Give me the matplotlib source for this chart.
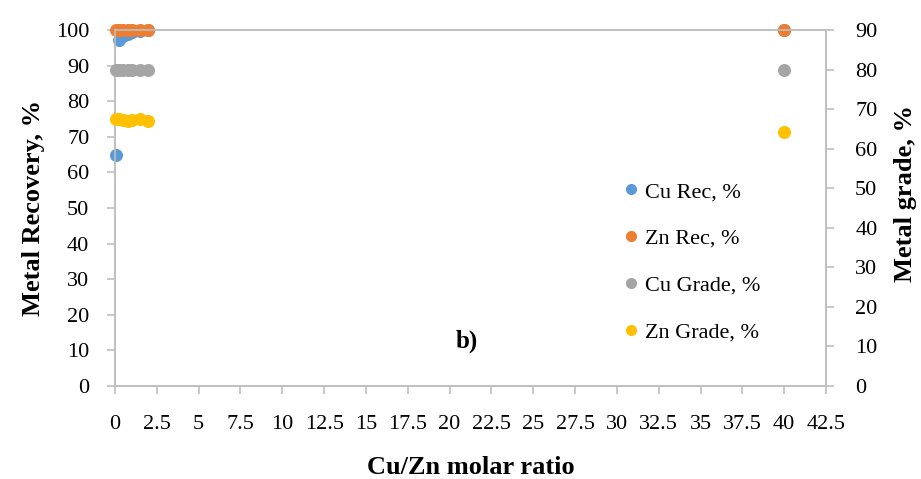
import matplotlib
matplotlib.use("Agg")
import matplotlib.pyplot as plt
from matplotlib.lines import Line2D

# ---- data ----
ratio = [0.05, 0.25, 0.5, 0.75, 1.0, 1.5, 2.0, 40]
cu_rec = [65, 97.2, 98.3, 99.0, 99.5, 99.8, 100, 100]
zn_rec = [100, 100, 100, 100, 100, 100, 100, 100]
cu_grade = [80, 80, 80, 80, 80, 80, 80, 80]
zn_grade = [67.5, 67.6, 67.3, 67.0, 67.2, 67.5, 67.0, 64.3]

x_ticks = [0, 2.5, 5, 7.5, 10, 12.5, 15, 17.5, 20, 22.5, 25, 27.5, 30, 32.5, 35, 37.5, 40, 42.5]
x_tick_labels = ["0", "2.5", "5", "7.5", "10", "12.5", "15", "17.5", "20", "22.5", "25",
                 "27.5", "30", "32.5", "35", "37.5", "40", "42.5"]
left_ticks = list(range(0, 101, 10))
right_ticks = list(range(0, 91, 10))
series_labels = ["Cu Rec, %", "Zn Rec, %", "Cu Grade, %", "Zn Grade, %"]

c_blue, c_orange, c_gray, c_yellow = "#5B9BD5", "#ED7D31", "#A5A5A5", "#FFC000"
axis_col = "#BFBFBF"

plt.rcParams['font.family'] = ['Liberation Serif', 'DejaVu Serif']

fig = plt.figure(figsize=(9.21, 4.79), dpi=100)
ax = fig.add_axes([115/921, 1-386/479, (826-115)/921, (386-30)/479])
ax2 = ax.twinx()

ms = 88
ax.scatter(ratio, cu_rec, s=ms, color=c_blue, zorder=3, clip_on=False, linewidths=0)
ax.scatter(ratio, zn_rec, s=ms, color=c_orange, zorder=4, clip_on=False, linewidths=0)
ax2.scatter(ratio, cu_grade, s=ms, color=c_gray, zorder=3, clip_on=False, linewidths=0)
ax2.scatter(ratio, zn_grade, s=ms, color=c_yellow, zorder=4, clip_on=False, linewidths=0)

ax.set_xlim(0, 42.5)
ax.set_ylim(0, 100)
ax2.set_ylim(0, 90)
ax.set_xticks(x_ticks)
ax.set_xticklabels(x_tick_labels)
ax.set_yticks(left_ticks)
ax2.set_yticks(right_ticks)

for a in (ax, ax2):
    for s in a.spines.values():
        s.set_color(axis_col)
        s.set_linewidth(1.2)
    a.tick_params(colors=axis_col, labelcolor="black", labelsize=16, length=6, width=1.2, direction="out")
ax.tick_params(axis='x', pad=15)
ax.tick_params(axis='y', pad=12.5)
ax2.tick_params(axis='y', pad=15)

ax.set_xlabel("Cu/Zn molar ratio", fontsize=19, fontweight="bold", labelpad=16)
ax.set_ylabel("Metal Recovery, %", fontsize=19, fontweight="bold", labelpad=8)
ax2.set_ylabel("Metal grade, %", fontsize=19, fontweight="bold")
ax2.yaxis.set_label_coords((894-115)/711, (386-193)/356)

fig.text(467/921, 1-341/479, "b)", fontsize=18, fontweight="bold", ha="center", va="center")

handles = [Line2D([], [], marker='o', linestyle='', color=c, markersize=7)
           for c in (c_blue, c_orange, c_gray, c_yellow)]
leg = ax2.legend(handles, series_labels, loc="center left",
                 bbox_to_anchor=((611-115)/711, (386-262)/356),
                 frameon=False, fontsize=16, labelspacing=1.18, handletextpad=0.15,
                 handlelength=1.0, borderaxespad=0)

fig.savefig("out.png", dpi=100)
